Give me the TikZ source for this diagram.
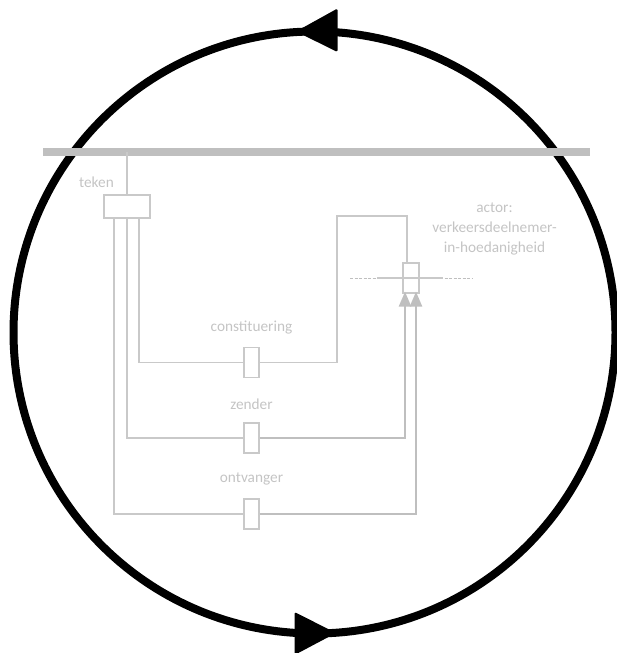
\documentclass[tikz,border=0pt]{standalone}
\usepackage{fontspec}
\setmainfont{Carlito}
\usetikzlibrary{arrows.meta}
\definecolor{lijn}{HTML}{C9C9C9}
\definecolor{balk}{HTML}{BFBFBF}
\definecolor{tekst}{HTML}{C4C4C4}
\tikzset{
  vak/.style={draw=lijn, line width=1.3pt, fill=white, inner sep=0pt},
  rol/.style={vak, minimum width=15pt, minimum height=30pt},
  lbl/.style={text=tekst, font=\fontsize{15.3}{20}\selectfont, inner sep=0pt, align=center},
  dun/.style={draw=lijn, line width=1.3pt},
  dik/.style={draw=balk, line width=2.6pt, -{Triangle[length=15pt,width=12pt]}, shorten >=-2pt},
}
\begin{document}
\begin{tikzpicture}[x=1pt,y=-1pt]
\useasboundingbox (0,0) rectangle (617,653);
% kringloop
\draw[line width=8pt] (314.5,332.5) circle[radius=301pt];
\fill[rounded corners=1.5pt] (296,31.5) -- (337.5,8.5) -- (337.5,52) -- cycle;
\fill[rounded corners=1.5pt] (336,633) -- (294.5,612) -- (294.5,655) -- cycle;
% balk
\coordinate (bl) at (43,152);
\coordinate (br) at (590,152);
\draw[balk, line width=8pt] (bl) -- (br);
% vakken
\node[vak, minimum width=46pt, minimum height=23pt] (teken) at (127,206.5) {};
\node[rol] (const) at (251.5,362.5) {};
\node[rol] (zender) at (251.5,438) {};
\node[rol] (ontv) at (251.5,514) {};
\node[vak, minimum width=16pt, minimum height=30pt] (actor) at (411,278) {};
% teksten
\node[lbl] at (96.5,182) {teken};
\node[lbl] at (251.5,328) {constituering};
\node[lbl] at (251.5,404) {zender};
\node[lbl] at (251.5,479) {ontvanger};
\node[lbl] at (494.5,229) {actor:\\verkeersdeelnemer-\\in-hoedanigheid};
% lijnen
\coordinate (k1) at (337,216);
\coordinate (k2) at (407,216);
\draw[dun] (teken.north) -- (teken.north |- bl);
\draw[dun] ([xshift=12pt]teken.south) |- (const.west);
\draw[dun] (const.east) -| (k1) -- (k2) -- (k2 |- actor.north);
\draw[dun] (teken.south) |- (zender.west);
\draw[dun] ([xshift=-13pt]teken.south) |- (ontv.west);
\draw[dik] (zender.east) -| ([xshift=-6pt]actor.south);
\draw[dik] (ontv.east) -| ([xshift=5pt]actor.south);
\draw[balk, line width=1pt, dash pattern=on 3pt off 1.5pt] (350,278) -- (472,278);
\draw[lijn, line width=1.2pt] (377,278) -- (443,278);
\end{tikzpicture}
\end{document}
